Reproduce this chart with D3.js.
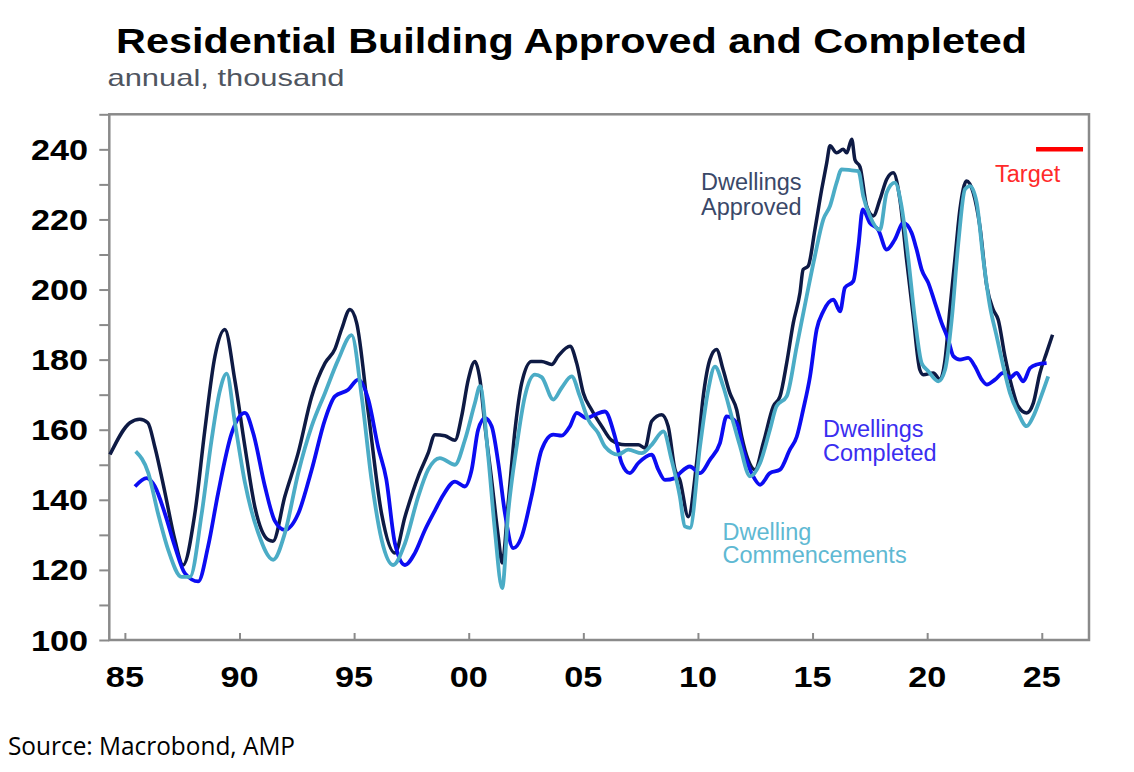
<!DOCTYPE html>
<html>
<head>
<meta charset="utf-8">
<script src="https://cdn.jsdelivr.net/npm/d3@7/dist/d3.min.js"></script>
<style>
  html, body { margin: 0; padding: 0; background: #ffffff; }
  svg { display: block; }
</style>
</head>
<body>
<svg id="chart" width="1134" height="772"></svg>
<script>
// ---------------- DATA ----------------
const approvedYears = [1984.35,1985.22,1985.65,1986.00,1986.31,1986.75,1987.18,1987.54,1988.05,1988.49,1988.93,1989.36,1989.80,1990.24,1990.67,1991.25,1991.46,1991.98,1992.56,1993.15,1993.73,1994.16,1994.45,1994.82,1995.11,1995.62,1996.20,1996.78,1997.22,1997.80,1998.23,1998.53,1998.96,1999.40,1999.69,1999.98,2000.27,2000.49,2000.71,2001.00,2001.29,2001.46,2001.72,2002.02,2002.31,2002.74,2003.18,2003.62,2003.90,2004.42,2004.71,2005.00,2005.36,2005.80,2006.23,2006.82,2007.40,2007.69,2007.98,2008.42,2008.70,2009.00,2009.21,2009.58,2009.94,2010.23,2010.52,2010.81,2011.10,2011.39,2011.69,2011.91,2012.19,2012.49,2012.85,2013.29,2013.58,2013.87,2014.16,2014.45,2014.59,2014.81,2015.10,2015.40,2015.62,2015.76,2016.05,2016.34,2016.49,2016.71,2016.85,2017.07,2017.36,2017.65,2017.94,2018.23,2018.52,2018.81,2019.10,2019.39,2019.68,2019.83,2020.27,2020.56,2020.78,2020.99,2021.21,2021.43,2021.72,2022.01,2022.30,2022.60,2022.88,2023.10,2023.39,2023.69,2023.97,2024.34,2024.63,2024.92,2025.21,2025.47];
const approvedValues = [152.9,162.0,163.0,162.0,155.0,142.0,128.6,121.4,136.0,160.0,181.0,188.6,174.0,155.0,138.0,128.6,128.2,141.0,153.4,169.5,179.0,183.0,188.6,194.3,190.5,164.8,136.0,124.8,135.2,146.7,153.3,158.6,158.3,157.0,163.8,174.3,179.5,174.3,161.0,145.7,129.5,122.0,139.0,160.0,173.3,179.5,179.5,178.6,181.0,183.8,179.0,170.5,165.7,161.0,157.0,155.7,155.7,154.8,162.4,164.3,161.0,148.6,145.7,135.2,150.5,169.5,180.0,182.9,177.1,170.5,165.7,158.0,151.4,148.6,156.2,166.7,169.5,179.0,190.5,199.0,205.7,206.7,217.0,228.6,236.2,241.0,239.0,240.0,239.0,242.9,237.0,235.0,223.8,221.0,225.7,231.4,233.3,225.7,208.6,192.4,177.1,175.7,176.2,174.3,180.0,194.3,208.6,222.9,231.0,227.6,218.0,201.0,194.3,191.4,181.0,172.4,166.7,164.8,167.6,176.2,182.0,187.1];

const commencementsYears = [1985.47,1986.02,1986.45,1986.89,1987.47,1987.84,1988.35,1988.78,1989.14,1989.44,1989.80,1990.24,1990.82,1991.47,1991.98,1992.56,1993.15,1993.73,1994.31,1994.89,1995.33,1995.76,1996.20,1996.70,1997.22,1997.80,1998.23,1998.74,1999.40,1999.83,2000.27,2000.49,2000.85,2001.14,2001.46,2001.72,2002.09,2002.45,2002.89,2003.18,2003.69,2004.05,2004.49,2004.85,2005.21,2005.65,2005.94,2006.52,2006.96,2007.54,2007.98,2008.49,2008.85,2009.21,2009.43,2009.65,2010.09,2010.45,2010.74,2011.10,2011.47,2011.84,2012.27,2012.71,2013.14,2013.43,2013.87,2014.31,2014.74,2015.10,2015.47,2015.76,2016.05,2016.27,2016.71,2017.00,2017.21,2017.50,2017.94,2018.23,2018.59,2018.88,2019.18,2019.47,2019.76,2020.05,2020.49,2020.78,2021.07,2021.36,2021.65,2021.87,2022.16,2022.45,2022.74,2023.03,2023.32,2023.61,2023.97,2024.34,2024.63,2024.92,2025.28];
const commencementsValues = [153.8,147.7,136.0,125.7,118.0,118.0,136.0,157.0,171.0,176.0,162.0,144.8,130.5,122.9,130.5,147.6,161.0,170.5,180.0,187.0,169.5,145.7,128.6,121.4,127.6,141.0,148.6,151.9,150.0,157.0,167.6,172.4,152.4,131.4,114.8,136.2,155.2,169.5,175.7,175.0,168.6,171.9,175.2,169.5,162.9,159.0,155.2,152.9,154.3,153.3,155.7,159.5,151.4,141.0,132.4,132.0,155.2,171.4,178.0,172.4,163.8,155.2,146.7,150.5,160.0,166.7,169.5,183.8,198.0,209.5,220.0,223.8,230.5,234.3,234.0,233.8,226.7,221.0,217.0,227.6,230.5,223.8,208.6,191.4,179.0,176.7,173.8,177.1,191.4,213.3,228.6,229.5,224.8,208.6,195.2,186.7,178.1,170.5,164.8,161.0,163.8,168.6,175.2];

const completedYears = [1985.44,1985.95,1986.31,1986.75,1987.18,1987.62,1988.20,1988.63,1989.07,1989.66,1990.24,1990.60,1991.11,1991.54,1991.98,1992.56,1993.15,1993.73,1994.16,1994.74,1995.18,1995.62,1996.05,1996.40,1996.78,1997.22,1997.65,1998.09,1998.53,1998.89,1999.40,1999.83,2000.13,2000.41,2000.71,2001.00,2001.29,2001.58,2001.94,2002.31,2002.74,2003.18,2003.69,2004.05,2004.42,2004.71,2005.14,2005.51,2005.94,2006.38,2006.67,2007.03,2007.40,2007.98,2008.27,2008.56,2009.00,2009.21,2009.65,2010.09,2010.52,2010.96,2011.25,2011.69,2011.98,2012.41,2012.71,2013.14,2013.58,2014.01,2014.31,2014.59,2014.89,2015.18,2015.47,2015.91,2016.20,2016.41,2016.78,2017.00,2017.19,2017.50,2017.87,2018.23,2018.59,2018.96,2019.32,2019.54,2019.76,2020.05,2020.34,2020.63,2020.92,2021.14,2021.43,2021.79,2022.08,2022.38,2022.60,2022.96,2023.32,2023.61,2023.90,2024.19,2024.49,2024.78,2025.21];
const completedValues = [143.8,146.2,143.8,136.0,126.7,119.0,116.7,126.7,142.0,159.0,164.8,159.0,143.8,134.0,131.4,136.0,148.6,162.9,169.5,171.4,174.3,168.6,155.0,146.0,127.6,121.4,124.8,131.4,137.0,141.4,145.2,143.8,148.6,160.0,163.3,161.0,150.5,136.2,126.2,129.5,141.0,154.3,158.6,158.3,161.0,164.8,163.3,164.3,165.2,158.0,150.5,147.6,150.5,152.9,148.6,145.7,146.2,147.6,149.5,147.6,151.4,156.2,163.8,161.9,154.3,146.7,144.3,147.6,148.6,154.3,158.0,165.7,175.2,188.6,193.8,197.1,193.8,200.5,202.4,212.4,222.9,219.0,217.0,211.4,214.3,219.0,216.2,211.4,205.7,201.9,196.2,190.5,185.7,181.0,180.0,180.5,178.1,174.3,172.9,174.3,176.2,174.8,176.2,173.8,177.6,178.6,179.0];

const targetYears = [2024.75, 2026.8];
const targetValue = 240;

const xTickYears = [1985, 1990, 1995, 2000, 2005, 2010, 2015, 2020, 2025];
const xTickLabels = ["85", "90", "95", "00", "05", "10", "15", "20", "25"];
const yTickValues = [100, 120, 140, 160, 180, 200, 220, 240];
const yMinorTicks = [100, 110, 120, 130, 140, 150, 160, 170, 180, 190, 200, 210, 220, 230, 240, 250];

// ---------------- LAYOUT ----------------
const svg = d3.select("#chart");
const plotL = 109.3, plotR = 1089, plotT = 114.3, plotB = 640;

const x = d3.scaleLinear().domain([1984.32, 2027.06]).range([plotL, plotR]);
const y = d3.scaleLinear().domain([100, 250]).range([plotB, plotT]);

const AX = "#8a8a8a";
const STRETCH = 1.18;

// Title & subtitle
svg.append("text")
  .attr("x", 116).attr("y", 53)
  .attr("font-family", "Liberation Sans, Arial, sans-serif")
  .attr("font-weight", "bold").attr("font-size", 35)
  .attr("textLength", 911).attr("lengthAdjust", "spacingAndGlyphs")
  .attr("fill", "#000")
  .text("Residential Building Approved and Completed");

svg.append("text")
  .attr("x", 107.5).attr("y", 86)
  .attr("font-family", "Liberation Sans, Arial, sans-serif")
  .attr("font-size", 24)
  .attr("textLength", 237).attr("lengthAdjust", "spacingAndGlyphs")
  .attr("fill", "#4f5560")
  .text("annual, thousand");

// Plot frame
svg.append("rect")
  .attr("x", plotL).attr("y", plotT)
  .attr("width", plotR - plotL).attr("height", plotB - plotT)
  .attr("fill", "none").attr("stroke", AX).attr("stroke-width", 2.5);

// Y ticks (outward) and labels
const yAxis = d3.axisLeft(y).tickValues(yMinorTicks).tickSize(10).tickFormat("");
const gy = svg.append("g").attr("transform", `translate(${plotL},0)`).call(yAxis);
gy.select(".domain").remove();
gy.selectAll(".tick line").attr("stroke", AX).attr("stroke-width", 2);

svg.append("g").selectAll("text").data(yTickValues).join("text")
  .attr("transform", d => `translate(88,${y(d) + 10.5}) scale(${STRETCH},1)`)
  .attr("text-anchor", "end")
  .attr("font-family", "Liberation Sans, Arial, sans-serif")
  .attr("font-weight", "bold").attr("font-size", 29)
  .attr("fill", "#000")
  .text(d => d);

// X ticks (inward) and labels
const xAxis = d3.axisTop(x).tickValues(xTickYears).tickSize(7).tickFormat("");
const gx = svg.append("g").attr("transform", `translate(0,${plotB})`).call(xAxis);
gx.select(".domain").remove();
gx.selectAll(".tick line").attr("stroke", AX).attr("stroke-width", 2);

svg.append("g").selectAll("text").data(xTickYears).join("text")
  .attr("transform", (d) => `translate(${x(d)},687) scale(${STRETCH},1)`)
  .attr("text-anchor", "middle")
  .attr("font-family", "Liberation Sans, Arial, sans-serif")
  .attr("font-weight", "bold").attr("font-size", 29)
  .attr("fill", "#000")
  .text((d, i) => xTickLabels[i]);

// Lines
const line = d3.line().x(d => x(d[0])).y(d => y(d[1])).curve(d3.curveMonotoneX);
const zip = (a, b) => a.map((v, i) => [v, b[i]]);

svg.append("path").datum(zip(approvedYears, approvedValues))
  .attr("d", line).attr("fill", "none")
  .attr("stroke", "#0e1a44").attr("stroke-width", 3.5).attr("stroke-linejoin", "round");

svg.append("path").datum(zip(completedYears, completedValues))
  .attr("d", line).attr("fill", "none")
  .attr("stroke", "#0c0cf2").attr("stroke-width", 3.8).attr("stroke-linejoin", "round");

svg.append("path").datum(zip(commencementsYears, commencementsValues))
  .attr("d", line).attr("fill", "none")
  .attr("stroke", "#4bacc6").attr("stroke-width", 3.8).attr("stroke-linejoin", "round");

// Target
svg.append("line")
  .attr("x1", x(targetYears[0])).attr("x2", x(targetYears[1]))
  .attr("y1", y(targetValue)).attr("y2", y(targetValue))
  .attr("stroke", "#ff0000").attr("stroke-width", 4.5);

// Labels
function label(lines, lx, ly, color, spacing) {
  const t = svg.append("text")
    .attr("font-family", "Liberation Sans, Arial, sans-serif")
    .attr("font-size", 23.5).attr("fill", color);
  lines.forEach((s, i) => t.append("tspan").attr("x", lx).attr("y", ly + i * spacing).text(s));
}
label(["Dwellings", "Approved"], 701, 189.5, "#3a4868", 25);
label(["Target"], 995, 182, "#ff2a2a", 25);
label(["Dwellings", "Completed"], 823, 437, "#3a2ef0", 23.5);
label(["Dwelling", "Commencements"], 722.5, 539.5, "#5fb9d3", 23.5);

// Source
svg.append("text")
  .attr("x", 8).attr("y", 755)
  .attr("font-family", "Open Sans, Noto Sans, sans-serif")
  .attr("font-size", 25)
  .attr("textLength", 287).attr("lengthAdjust", "spacingAndGlyphs")
  .attr("fill", "#000")
  .text("Source: Macrobond, AMP");
</script>
</body>
</html>
